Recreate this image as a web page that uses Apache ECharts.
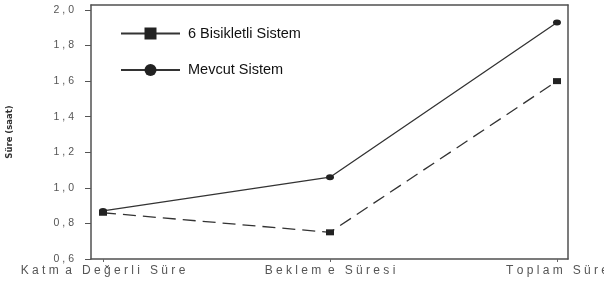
<!DOCTYPE html>
<html><head><meta charset="utf-8">
<script src="https://cdn.jsdelivr.net/npm/echarts@6/dist/echarts.min.js"></script>
<style>html,body{margin:0;padding:0;background:#fff}#c{width:604px;height:287px}</style>
</head><body><div id="c"></div>
<script>
const categories = ['K a t m  a   D e ğ e r l i   S ü r e', 'B e k l e m  e   S ü r e s i', 'T o p l a m   S ü r e'];
const bisiklet6 = [0.86, 0.75, 1.60];
const mevcut = [0.87, 1.06, 1.93];
const seriesNames = ['6 Bisikletli Sistem', 'Mevcut Sistem'];
const yTicks = [0.6, 0.8, 1.0, 1.2, 1.4, 1.6, 1.8, 2.0];
const yName = 'Süre (saat)';

const xIdx = categories.map((c, i) => i);
const xMin = -0.0529, xMax = 2.0485, yMin = 0.6, yMax = 2.028;
const frameLine = {show: true, onZero: false, lineStyle: {color: '#505050', width: 1.5}};
const chart = echarts.init(document.getElementById('c'), null, {renderer: 'canvas'});
chart.setOption({
  animation: false,
  backgroundColor: '#fff',
  grid: {left: 91, right: 36, top: 5, bottom: 28, containLabel: false, outerBoundsMode: 'none',
    show: false},
  legend: {
    orient: 'vertical', left: 120, top: 26, padding: 0, itemGap: 21.5,
    itemWidth: 59, itemHeight: 15,
    lineStyle: {type: 'solid', width: 2},
    textStyle: {fontFamily: 'Liberation Sans', fontSize: 14.5, color: '#111', padding: [0, 0, 0, 3]},
    data: seriesNames
  },
  xAxis: [{
    type: 'value', min: xMin, max: xMax, position: 'bottom',
    axisLine: frameLine,
    splitLine: {show: false},
    axisTick: {show: true, length: 3, customValues: xIdx, lineStyle: {color: '#666'}},
    axisLabel: {fontFamily: 'Liberation Sans', fontSize: 12, color: '#555', margin: 6,
      customValues: xIdx, formatter: v => categories[Math.round(v)] || ''}
  }, {
    type: 'value', min: xMin, max: xMax, position: 'top',
    axisLine: frameLine, axisTick: {show: false}, axisLabel: {show: false}, splitLine: {show: false}
  }],
  yAxis: [{
    type: 'value', min: yMin, max: yMax, position: 'left',
    name: yName, nameLocation: 'middle', nameGap: 77, nameMoveOverlap: false,
    nameTextStyle: {fontFamily: 'DejaVu Sans', fontWeight: 'bold', fontSize: 8.5, color: '#333'},
    axisLine: frameLine,
    axisTick: {show: true, length: 6, customValues: yTicks, lineStyle: {color: '#555'}},
    splitLine: {show: false},
    axisLabel: {fontFamily: 'Liberation Sans', fontSize: 10.5, color: '#555', margin: 17,
      customValues: yTicks, formatter: v => v.toFixed(1).replace('.', ' , ')}
  }, {
    type: 'value', min: yMin, max: yMax, position: 'right',
    axisLine: frameLine, axisTick: {show: false}, axisLabel: {show: false}, splitLine: {show: false}
  }],
  series: [
    {name: seriesNames[0], type: 'line', data: bisiklet6.map((v, i) => [xIdx[i], v]),
     symbol: 'rect', symbolSize: [8, 6], color: '#222',
     lineStyle: {color: '#333', width: 1.3, type: [13, 7]},
     itemStyle: {color: '#222'}},
    {name: seriesNames[1], type: 'line', data: mevcut.map((v, i) => [xIdx[i], v]),
     symbol: 'circle', symbolSize: [8, 6], color: '#222',
     lineStyle: {color: '#333', width: 1.3, type: 'solid'},
     itemStyle: {color: '#222'}}
  ]
});
</script></body></html>
